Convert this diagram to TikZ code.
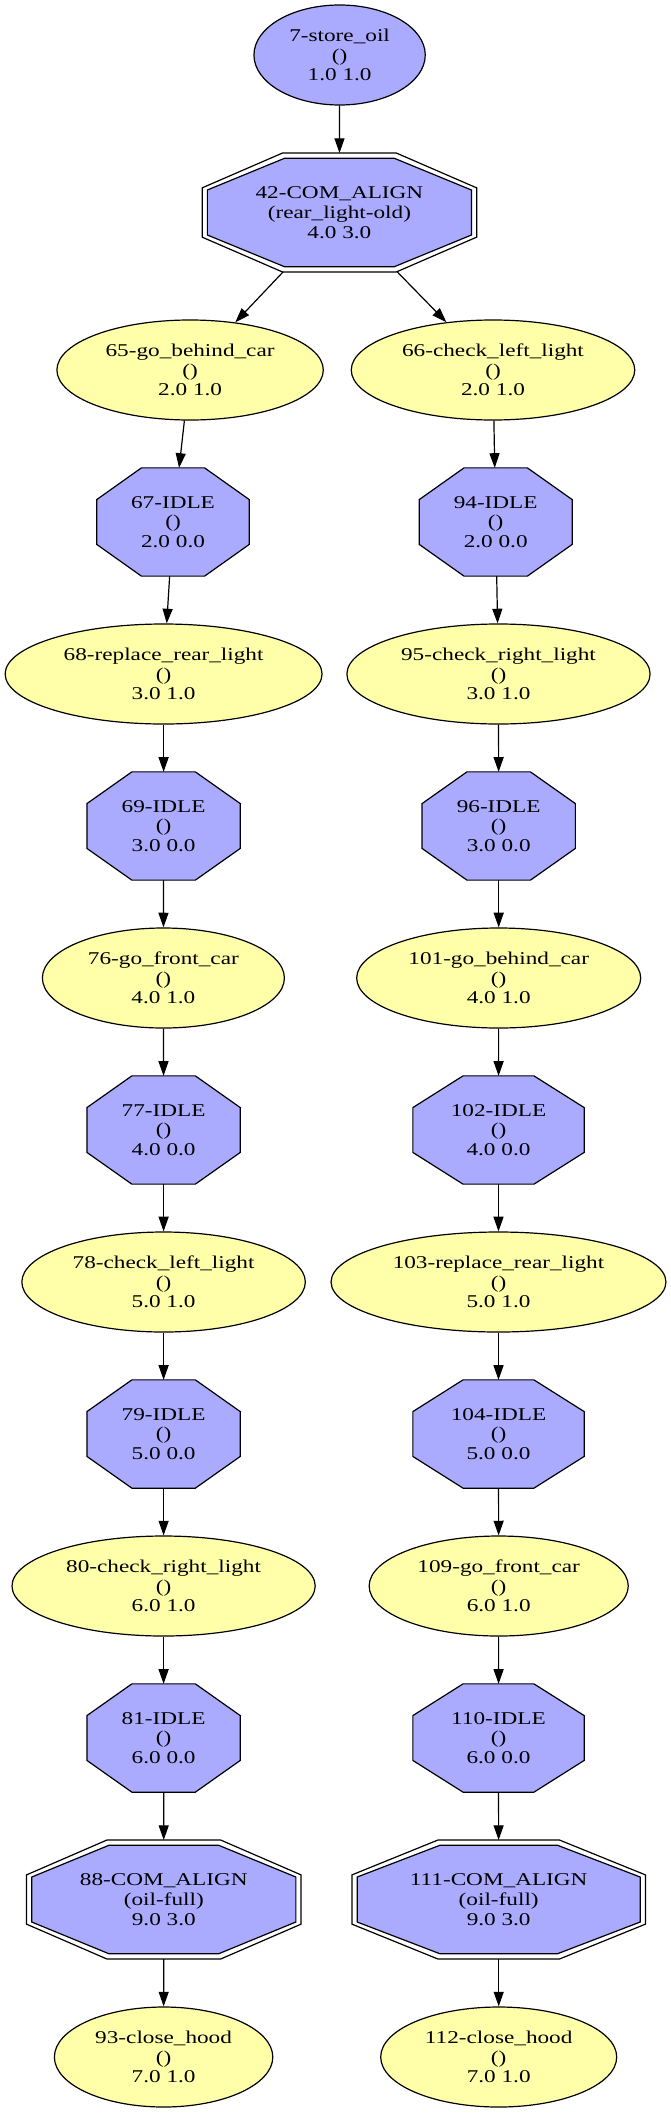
\documentclass[tikz,border=0pt]{standalone}
\usepackage{fontspec}
\setmainfont{Liberation Serif}[FakeStretch=1.29]
\usetikzlibrary{shapes.geometric,arrows.meta,calc,backgrounds}
\definecolor{bluefill}{HTML}{AAAAFF}
\definecolor{yelfill}{HTML}{FFFFAA}
\newcommand\drawoct[3]{%
  \path ($(#1.north west)+(#2,#2)$) coordinate (#1-a)
        ($(#1.north east)+(-#2,#2)$) coordinate (#1-b)
        ($(#1.south east)+(-#2,-#2)$) coordinate (#1-c)
        ($(#1.south west)+(#2,-#2)$) coordinate (#1-d);
  \draw[#3] ($(#1-a)!0.2929!(#1-b)$) -- ($(#1-a)!0.7071!(#1-b)$)
     -- ($(#1-b)!0.2929!(#1-c)$) -- ($(#1-b)!0.7071!(#1-c)$)
     -- ($(#1-c)!0.2929!(#1-d)$) -- ($(#1-c)!0.7071!(#1-d)$)
     -- ($(#1-d)!0.2929!(#1-a)$) -- ($(#1-d)!0.7071!(#1-a)$) -- cycle;}
\begin{document}
\begin{tikzpicture}[x=0.75pt,y=-0.75pt,
  every path/.style={line width=0.9pt},
  lbl/.style={align=center, font=\fontsize{13.5}{14.8}\selectfont, inner sep=0pt},
  act/.style={lbl, ellipse, draw, line width=0.9pt, fill=yelfill, minimum width=#1*0.75pt, minimum height=75pt},
  topact/.style={act=#1, fill=bluefill},
  oc/.style={lbl, rectangle, minimum width=#1*0.75pt, minimum height=81.2pt, outer sep=0pt},
  com/.style={lbl, rectangle, minimum width=#1*0.75pt, minimum height=89.25pt, outer sep=0pt},
  arr/.style={-{Triangle[length=11pt,width=7.5pt]}, line width=0.9pt}]
\useasboundingbox (0,0) rectangle (671,2113);

\node[topact=171.3] (n7) at (339.6,55) {7-store\_oil\\()\\1.0 1.0};
\node[com=274.5] (n42) at (339.4,212.5) {42-COM\_ALIGN\\(rear\_light-old)\\4.0 3.0};
\node[act=266.4] (n65) at (190.1,370) {65-go\_behind\_car\\()\\2.0 1.0};
\node[act=283.5] (n66) at (493,370) {66-check\_left\_light\\()\\2.0 1.0};
\node[oc=152.5] (n67) at (173,522) {67-IDLE\\()\\2.0 0.0};
\node[oc=152.9] (n94) at (495.7,522) {94-IDLE\\()\\2.0 0.0};
\node[act=316.9] (n68) at (163.6,674) {68-replace\_rear\_light\\()\\3.0 1.0};
\node[act=303.2] (n95) at (498.5,674) {95-check\_right\_light\\()\\3.0 1.0};
\node[oc=153.3] (n69) at (163.6,826) {69-IDLE\\()\\3.0 0.0};
\node[oc=153.3] (n96) at (498.7,826) {96-IDLE\\()\\3.0 0.0};
\node[act=242] (n76) at (163.4,978) {76-go\_front\_car\\()\\4.0 1.0};
\node[act=284] (n101) at (498.7,978) {101-go\_behind\_car\\()\\4.0 1.0};
\node[oc=153.3] (n77) at (163.6,1130) {77-IDLE\\()\\4.0 0.0};
\node[oc=171.3] (n102) at (498.5,1130) {102-IDLE\\()\\4.0 0.0};
\node[act=283.5] (n78) at (163.6,1282) {78-check\_left\_light\\()\\5.0 1.0};
\node[act=334.9] (n103) at (498.5,1282) {103-replace\_rear\_light\\()\\5.0 1.0};
\node[oc=153.3] (n79) at (163.6,1434) {79-IDLE\\()\\5.0 0.0};
\node[oc=171.3] (n104) at (498.5,1434) {104-IDLE\\()\\5.0 0.0};
\node[act=303.2] (n80) at (163.6,1586) {80-check\_right\_light\\()\\6.0 1.0};
\node[act=259.1] (n109) at (498.7,1586) {109-go\_front\_car\\()\\6.0 1.0};
\node[oc=153.3] (n81) at (163.6,1738) {81-IDLE\\()\\6.0 0.0};
\node[oc=171.3] (n110) at (498.5,1738) {110-IDLE\\()\\6.0 0.0};
\node[com=274.5] (n88) at (163.8,1899.5) {88-COM\_ALIGN\\(oil-full)\\9.0 3.0};
\node[com=293.4] (n111) at (498.7,1899.5) {111-COM\_ALIGN\\(oil-full)\\9.0 3.0};
\node[act=218.4] (n93) at (163.6,2057) {93-close\_hood\\()\\7.0 1.0};
\node[act=236] (n112) at (498.7,2057) {112-close\_hood\\()\\7.0 1.0};

\begin{scope}[on background layer]
  \fill[white] (0,0) rectangle (671,2113);
  \foreach \n in {n67,n94,n69,n96,n77,n102,n79,n104,n81,n110}{\drawoct{\n}{0}{draw, fill=bluefill}}
  \foreach \n in {n42,n88,n111}{\drawoct{\n}{0}{draw, fill=white}\drawoct{\n}{5.2}{draw, fill=bluefill}}
\end{scope}

\draw[arr] (n7) -- (n42);
\draw[arr] (n42) -- (n65);
\draw[arr] (n42) -- (n66);
\draw[arr] (n65) -- (n67);
\draw[arr] (n67) -- (n68);
\draw[arr] (n68) -- (n69);
\draw[arr] (n69) -- (n76);
\draw[arr] (n76) -- (n77);
\draw[arr] (n77) -- (n78);
\draw[arr] (n78) -- (n79);
\draw[arr] (n79) -- (n80);
\draw[arr] (n80) -- (n81);
\draw[arr] (n81) -- (n88);
\draw[arr] (n88) -- (n93);
\draw[arr] (n66) -- (n94);
\draw[arr] (n94) -- (n95);
\draw[arr] (n95) -- (n96);
\draw[arr] (n96) -- (n101);
\draw[arr] (n101) -- (n102);
\draw[arr] (n102) -- (n103);
\draw[arr] (n103) -- (n104);
\draw[arr] (n104) -- (n109);
\draw[arr] (n109) -- (n110);
\draw[arr] (n110) -- (n111);
\draw[arr] (n111) -- (n112);
\end{tikzpicture}
\end{document}
